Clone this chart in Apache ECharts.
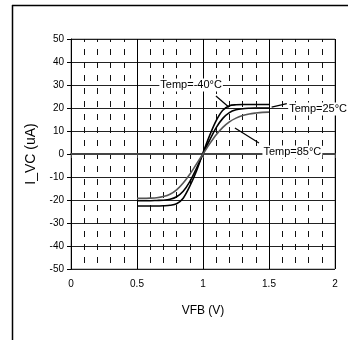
<!DOCTYPE html>
<html>
<head>
<meta charset="utf-8">
<script src="https://cdn.jsdelivr.net/npm/echarts@6/dist/echarts.min.js"></script>
<style>
html,body{margin:0;padding:0;background:#fff;}
#chart{width:348px;height:340px;}
</style>
</head>
<body>
<div id="chart"></div>
<script>
// Feedback voltage sweep (V)
const vfb = [0.5,0.55,0.6,0.65,0.7,0.75,0.8,0.85,0.9,0.95,1.0,1.05,1.1,1.15,1.2,1.25,1.3,1.35,1.4,1.45,1.5];
// I_VC (uA) at each temperature
const ivcM40 = [-22.6,-22.6,-22.6,-22.6,-22.5,-22.3,-21.6,-19.2,-14,-7.5,0.5,8,14.5,19,21,21.4,21.5,21.5,21.5,21.5,21.5];
const ivc25  = [-20.3,-20.3,-20.3,-20.2,-20.1,-19.7,-18.6,-16.2,-12,-6.3,0,6,11.5,15.5,18,19.2,19.7,19.9,20,20,20];
const ivc85  = [-19.3,-19.3,-19.2,-19,-18.5,-17.5,-15.6,-12.6,-8.8,-4.4,0,4.4,8.4,11.6,14,15.6,16.7,17.4,17.8,18.1,18.2];
const xTicks = [0,0.5,1,1.5,2];
const yTicks = [-50,-40,-30,-20,-10,0,10,20,30,40,50];

const labelM40 = 'Temp=-40°C';
const label25 = 'Temp=25°C';
const label85 = 'Temp=85°C';

const FONT = '"Liberation Sans", Arial, sans-serif';

const pair = (ys) => vfb.map((x, i) => [x, ys[i]]);

const chart = echarts.init(document.getElementById('chart'), null, {renderer: 'canvas'});

chart.setOption({
  animation: false,
  backgroundColor: '#fff',
  grid: {left: 71, right: 13, top: 39, bottom: 71, show: true, borderColor: '#888', borderWidth: 1},
  xAxis: {
    type: 'value', min: xTicks[0], max: xTicks[xTicks.length - 1], interval: 0.5,
    name: 'VFB (V)', nameLocation: 'middle', nameGap: 36,
    nameTextStyle: {fontFamily: FONT, fontSize: 12, color: '#000'},
    axisLine: {lineStyle: {color: '#444', width: 2}},
    axisTick: {show: true, length: 4, lineStyle: {color: '#444'}},
    axisLabel: {fontFamily: FONT, fontSize: 10, color: '#000', margin: 10,
      formatter: v => String(v)},
    splitLine: {show: true, lineStyle: {color: '#000', width: 1}},
    minorTick: {show: false, splitNumber: 5},
    minorSplitLine: {show: true, lineStyle: {color: '#111', width: 1, type: [6, 7], dashOffset: 3}}
  },
  yAxis: {
    type: 'value', min: yTicks[0], max: yTicks[yTicks.length - 1], interval: 10,
    name: 'I_VC (uA)', nameLocation: 'middle', nameGap: 33, nameRotate: 90,
    nameTextStyle: {fontFamily: FONT, fontSize: 14, color: '#000'},
    axisLine: {show: true, lineStyle: {color: '#000', width: 1}},
    axisTick: {show: true, length: 4, lineStyle: {color: '#000'}},
    axisLabel: {fontFamily: FONT, fontSize: 10, color: '#000', margin: 7},
    splitLine: {show: true, lineStyle: {color: '#222', width: 1}}
  },
  series: [
    {name: labelM40, type: 'line', data: pair(ivcM40), showSymbol: false, smooth: 0.3,
      lineStyle: {color: '#000', width: 1.6}, z: 5},
    {name: label25, type: 'line', data: pair(ivc25), showSymbol: false, smooth: 0.3,
      lineStyle: {color: '#000', width: 1.6}, z: 5},
    {name: label85, type: 'line', data: pair(ivc85), showSymbol: false, smooth: 0.3,
      lineStyle: {color: '#555', width: 1.6}, z: 5}
  ]
});

// Callout labels with leader lines, placed in data coordinates
const px = (p) => chart.convertToPixel({gridIndex: 0}, p);
const callouts = [
  {text: labelM40, at: [0.91, 30], align: 'center', from: [1.098, 25.2], to: [1.197, 20.3]},
  {text: label25, at: [1.645, 19.6], align: 'left', from: [1.52, 20.4], to: [1.635, 21.9]},
  {text: label85, at: [1.45, 0.9], align: 'left', from: [1.242, 11.3], to: [1.424, 4.8]}
];
const graphics = [];
// outer frame lines
graphics.push({type: 'line', shape: {x1: 12.5, y1: 5, x2: 12.5, y2: 340}, style: {stroke: '#000', lineWidth: 1.5}, z: 10});
graphics.push({type: 'line', shape: {x1: 12, y1: 5.5, x2: 348, y2: 5.5}, style: {stroke: '#000', lineWidth: 1.5}, z: 10});
callouts.forEach(c => {
  const a = px(c.from), b = px(c.to), t = px(c.at);
  graphics.push({type: 'line', shape: {x1: a[0], y1: a[1], x2: b[0], y2: b[1]},
    style: {stroke: '#000', lineWidth: 1.2}, z: 20});
  graphics.push({type: 'text', x: t[0], y: t[1], z: 21,
    style: {text: c.text, font: '11px ' + FONT, fill: '#000', align: c.align, verticalAlign: 'middle',
      backgroundColor: '#fff', padding: [1, 1]}});
});
chart.setOption({graphic: graphics});
</script>
</body>
</html>
